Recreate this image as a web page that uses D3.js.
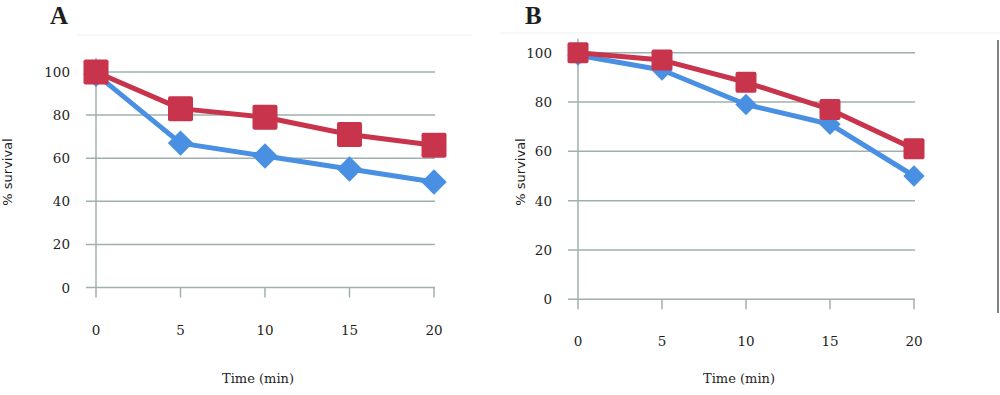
<!DOCTYPE html>
<html lang="en">
<head>
<meta charset="UTF-8">
<title>Survival vs time</title>
<script src="https://d3js.org/d3.v7.min.js"></script>
<style>
  body { margin: 0; background: #fff; }
  svg text { fill: #1e1e1e; }
  .tick-label { font-family: 'DejaVu Serif', serif; font-size: 13.5px; }
  .x-title { font-family: 'DejaVu Serif', serif; font-size: 13px; }
  .y-title { font-family: 'DejaVu Sans', sans-serif; font-size: 13px; }
  .panel-label { font-family: 'Liberation Serif', serif; font-size: 25px; font-weight: bold; }
</style>
</head>
<body>
<svg id="chart" width="1000" height="395"></svg>
<script>
// data
let times = [0, 5, 10, 15, 20]
let yTicks = [0, 20, 40, 60, 80, 100]
let panelA_red = [100, 83, 79, 71, 66]
let panelA_blue = [99, 67, 61, 55, 49]
let panelB_red = [100, 97, 88, 77, 61]
let panelB_blue = [99, 93, 79, 71, 50]

let red = '#c8344b'
let blue = '#4a90e2'
let gridColor = '#9fb0ae'

let svg = d3.select('#chart')

function drawPanel(opt) {
    let g = svg.append('g')
    let x = d3.scaleLinear().domain([0, 20]).range([opt.x0, opt.x1])
    let y = d3.scaleLinear().domain([0, 100]).range([opt.y0, opt.y1])

    // faint chart border on top
    g.append('line')
        .attr('x1', opt.bx0).attr('x2', opt.bx1)
        .attr('y1', opt.by).attr('y2', opt.by)
        .attr('stroke', '#eef0f0').attr('stroke-width', 1)

    // horizontal gridlines
    g.selectAll('.grid').data(yTicks).enter().append('line')
        .attr('x1', opt.x0 - 10).attr('x2', opt.x1 + 1)
        .attr('y1', d => y(d)).attr('y2', d => y(d))
        .attr('stroke', gridColor).attr('stroke-width', 1.5)

    // vertical axis line
    g.append('line')
        .attr('x1', opt.x0).attr('x2', opt.x0)
        .attr('y1', y(100) - 14).attr('y2', opt.y0 + 10)
        .attr('stroke', gridColor).attr('stroke-width', 1.5)

    // x ticks
    g.selectAll('.xtick').data(times.slice(1)).enter().append('line')
        .attr('x1', d => x(d)).attr('x2', d => x(d))
        .attr('y1', opt.y0).attr('y2', opt.y0 + 10)
        .attr('stroke', gridColor).attr('stroke-width', 1.5)

    g.selectAll('.xlab').data(times).enter().append('text')
        .attr('class', 'tick-label')
        .attr('x', d => x(d)).attr('y', opt.y0 + 47)
        .attr('text-anchor', 'middle')
        .text(d => d)

    g.selectAll('.ylab').data(yTicks).enter().append('text')
        .attr('class', 'tick-label')
        .attr('x', opt.x0 - 26).attr('y', d => y(d) + 5)
        .attr('text-anchor', 'end')
        .text(d => d)

    g.append('text')
        .attr('class', 'x-title')
        .attr('x', (opt.x0 + opt.x1) / 2 - 7).attr('y', 383)
        .attr('text-anchor', 'middle')
        .text('Time (min)')

    g.append('text')
        .attr('class', 'y-title')
        .attr('transform', `translate(${opt.ytx},172) rotate(-90)`)
        .attr('text-anchor', 'middle')
        .text('% survival')

    g.append('text')
        .attr('class', 'panel-label')
        .attr('x', opt.lx).attr('y', 24)
        .text(opt.label)

    let line = d3.line().x((d, i) => x(times[i])).y(d => y(d))

    // blue series
    g.append('path').datum(opt.blue)
        .attr('d', line)
        .attr('fill', 'none').attr('stroke', blue).attr('stroke-width', 5)
        .attr('stroke-linejoin', 'round')
    g.selectAll('.dia').data(opt.blue).enter().append('rect')
        .attr('x', -opt.ms / 2 * 0.72).attr('y', -opt.ms / 2 * 0.72)
        .attr('width', opt.ms * 0.72).attr('height', opt.ms * 0.72)
        .attr('fill', blue)
        .attr('transform', (d, i) => `translate(${x(times[i])},${y(d)}) rotate(45)`)

    // red series
    g.append('path').datum(opt.red)
        .attr('d', line)
        .attr('fill', 'none').attr('stroke', red).attr('stroke-width', 5)
        .attr('stroke-linejoin', 'round')
    g.selectAll('.sq').data(opt.red).enter().append('rect')
        .attr('x', d => -opt.ms / 2).attr('y', -opt.ms / 2)
        .attr('width', opt.ms).attr('height', opt.ms)
        .attr('rx', 2)
        .attr('fill', red)
        .attr('transform', (d, i) => `translate(${x(times[i])},${y(d)})`)
}

drawPanel({
    label: 'A', lx: 50,
    x0: 96, x1: 434, y0: 287.5, y1: 72,
    bx0: 77, bx1: 472, by: 35,
    ytx: 12, ms: 25,
    red: panelA_red, blue: panelA_blue
})

drawPanel({
    label: 'B', lx: 525,
    x0: 578, x1: 914, y0: 299.3, y1: 52.7,
    bx0: 500, bx1: 1000, by: 33,
    ytx: 525, ms: 21,
    red: panelB_red, blue: panelB_blue
})

// right border line of panel B
svg.append('line')
    .attr('x1', 998).attr('x2', 998)
    .attr('y1', 40).attr('y2', 313)
    .attr('stroke', '#7d8583').attr('stroke-width', 2)
</script>
</body>
</html>
